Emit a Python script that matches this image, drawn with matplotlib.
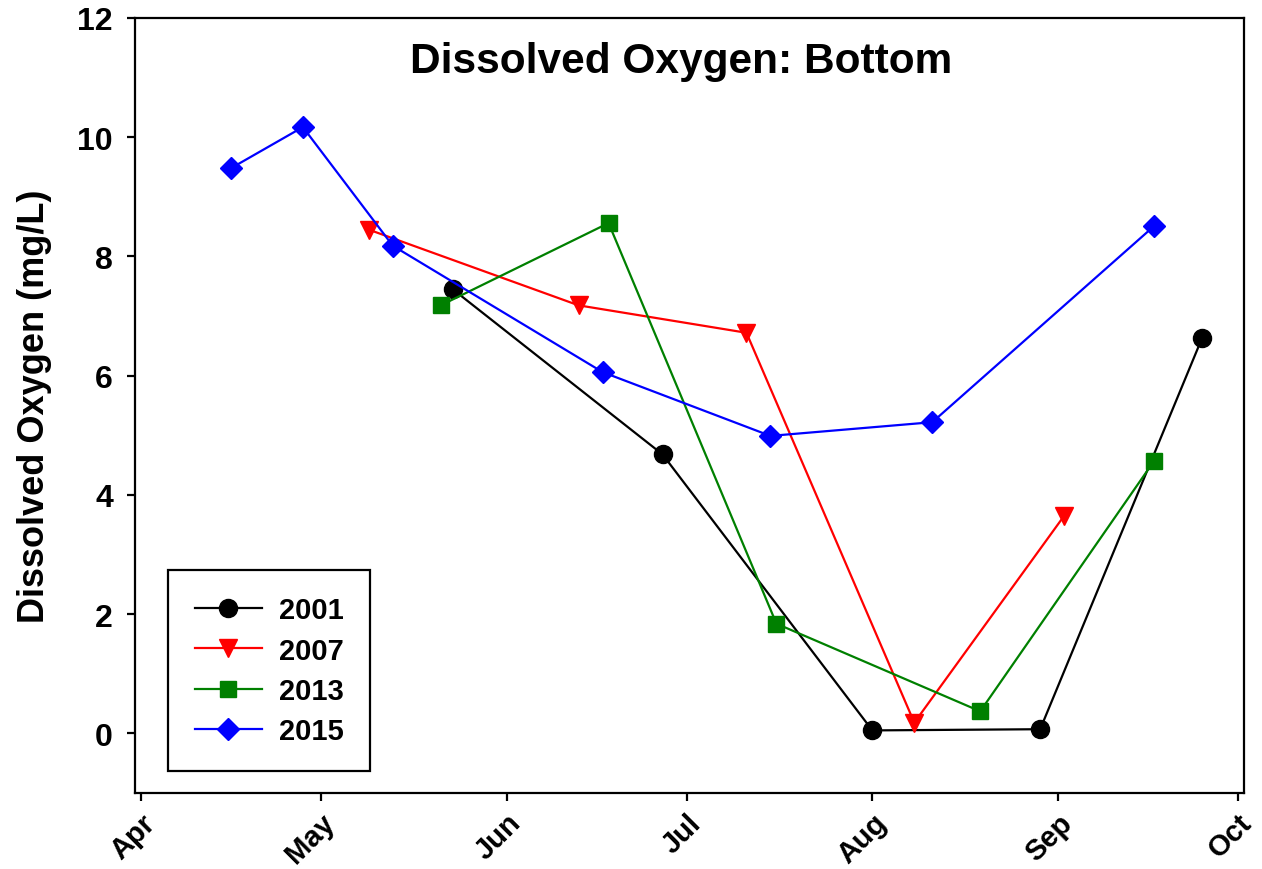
import matplotlib
matplotlib.use("Agg")
import matplotlib.pyplot as plt
import matplotlib.dates as mdates
import pandas as pd

# sampling dates (month-day) and bottom DO readings (mg/L) per year
dates_2001 = ["05-23", "06-27", "08-01", "08-29", "09-25"]
do_2001 = [7.45, 4.68, 0.05, 0.07, 6.63]

dates_2007 = ["05-09", "06-13", "07-11", "08-08", "09-02"]
do_2007 = [8.45, 7.18, 6.72, 0.18, 3.65]

dates_2013 = ["05-21", "06-18", "07-16", "08-19", "09-17"]
do_2013 = [7.18, 8.56, 1.84, 0.37, 4.57]

dates_2015 = ["04-16", "04-28", "05-13", "06-17", "07-15", "08-11", "09-17"]
do_2015 = [9.48, 10.17, 8.18, 6.06, 4.99, 5.22, 8.51]

month_ticks = ["04-01", "05-01", "06-01", "07-01", "08-01", "09-01", "10-01"]
yticks = [0, 2, 4, 6, 8, 10, 12]


def to_dt(md):
    # plot all years on a common season axis
    return pd.to_datetime(["2015-" + d for d in md])


plt.rcParams['font.family'] = ['Liberation Sans', 'DejaVu Sans']
plt.rcParams['font.weight'] = 'bold'

fig = plt.figure(figsize=(12.62, 8.70), dpi=100)
ax = fig.add_axes([135 / 1262, 1 - 794 / 870, (1244 - 135) / 1262, (794 - 19) / 870])

series = [
    ("2001", dates_2001, do_2001, "black", "o", 13),
    ("2007", dates_2007, do_2007, "red", "v", 13),
    ("2013", dates_2013, do_2013, "green", "s", 11),
    ("2015", dates_2015, do_2015, "blue", "D", 11.5),
]
for name, d, v, c, m, ms in series:
    ax.plot(to_dt(d), v, color=c, marker=m, markersize=ms, linewidth=1.6,
            markeredgecolor=c, markerfacecolor=c, label=name)

ax.set_xlim(pd.Timestamp("2015-03-31"), pd.Timestamp("2015-10-02"))
ax.set_ylim(-1, 12)
ax.set_xticks(to_dt(month_ticks))
ax.xaxis.set_major_formatter(mdates.DateFormatter("%b"))
ax.set_yticks(yticks)

ax.tick_params(axis="both", direction="out", length=6, width=1.6)
ax.tick_params(axis="y", pad=10, labelsize=23)
ax.tick_params(axis="x", pad=5, labelsize=21)
for lab in ax.get_xticklabels():
    lab.set_rotation(45)
    lab.set_ha("right")
    lab.set_rotation_mode("anchor")
for s in ax.spines.values():
    s.set_linewidth(1.6)

ax.set_ylabel("Dissolved Oxygen (mg/L)", fontsize=26, fontweight="bold", labelpad=18)
ax.text(0.492, 0.945, "Dissolved Oxygen: Bottom", transform=ax.transAxes,
        ha="center", va="center", fontsize=30.5, fontweight="bold")

leg = ax.legend(loc="lower left", bbox_to_anchor=(0.03, 0.028), fontsize=21,
                fancybox=False, edgecolor="black", framealpha=1,
                handlelength=2.3, borderpad=0.9, labelspacing=0.42, handletextpad=0.6,
                borderaxespad=0)
leg.get_frame().set_linewidth(1.6)

fig.savefig("out.png", dpi=100)
